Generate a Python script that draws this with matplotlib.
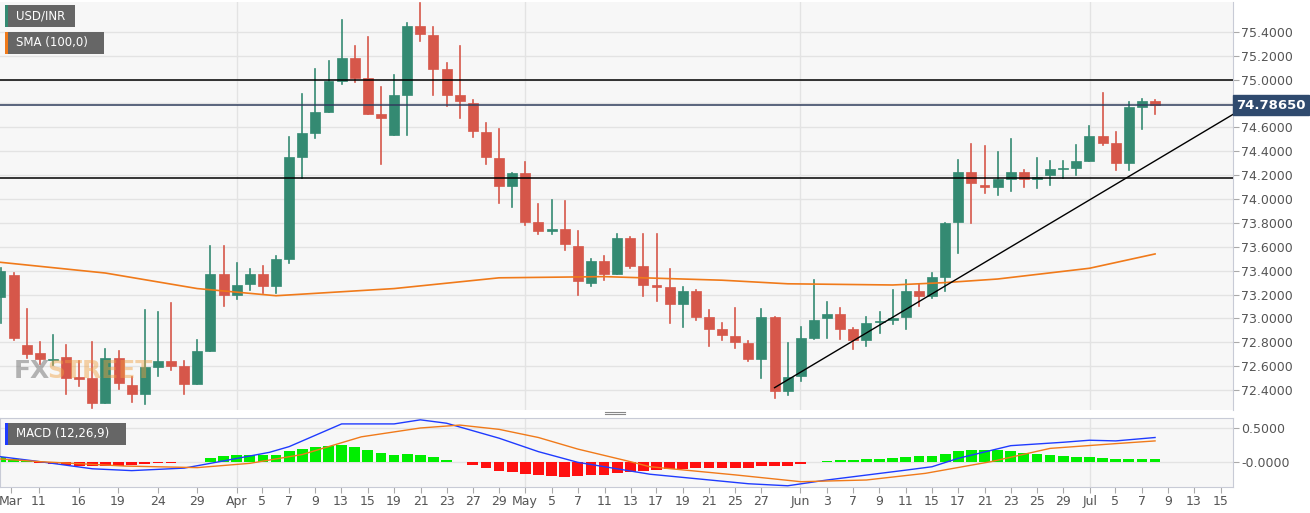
import matplotlib
matplotlib.use("Agg")
import matplotlib.pyplot as plt
from matplotlib.patches import Rectangle

opens  = [73.18,73.36,72.78,72.71,72.65,72.68,72.51,72.50,72.29,72.67,72.44,72.37,72.59,72.64,72.60,72.45,72.73,73.37,73.20,73.29,
          73.37,73.27,73.50,74.35,74.55,74.73,74.99,75.18,75.01,74.71,74.54,74.87,75.45,75.37,75.09,74.87,74.80,74.56,74.34,74.11,
          74.22,73.81,73.73,73.75,73.61,73.30,73.48,73.37,73.67,73.44,73.28,73.26,73.12,73.23,73.01,72.91,72.85,72.79,72.66,73.01,
          72.39,72.52,72.84,73.00,73.04,72.91,72.82,72.97,72.99,73.01,73.23,73.19,73.35,73.81,74.23,74.12,74.10,74.17,74.23,74.17,
          74.20,74.25,74.26,74.32,74.53,74.47,74.30,74.77,74.82]
highs  = [73.42,73.38,73.08,72.80,72.86,72.78,72.64,72.80,72.74,72.73,72.51,73.07,73.05,73.13,72.64,72.82,73.61,73.61,73.46,73.41,
          73.44,73.52,74.52,74.88,75.09,75.16,75.50,75.28,75.36,74.94,75.04,75.47,75.64,75.44,75.14,75.28,74.83,74.64,74.59,74.22,
          74.31,73.96,73.99,73.98,73.73,73.50,73.52,73.71,73.68,73.71,73.71,73.41,73.26,73.24,73.07,72.96,73.09,72.81,73.08,73.01,
          72.79,72.93,73.32,73.14,73.09,72.92,73.01,73.05,73.24,73.32,73.29,73.38,73.80,74.33,74.46,74.44,74.39,74.50,74.24,74.34,
          74.32,74.32,74.45,74.61,74.89,74.56,74.81,74.84,74.83]
lows   = [72.96,72.82,72.67,72.62,72.61,72.37,72.43,72.25,72.29,72.41,72.30,72.28,72.52,72.57,72.37,72.45,72.73,73.10,73.16,73.24,
          73.21,73.21,73.46,74.18,74.51,74.73,74.96,74.98,74.71,74.29,74.54,74.54,75.32,74.87,74.78,74.68,74.52,74.29,73.97,73.93,
          73.78,73.71,73.71,73.57,73.20,73.27,73.32,73.37,73.42,73.19,73.15,72.96,72.93,72.99,72.77,72.82,72.75,72.64,72.50,72.33,
          72.36,72.48,72.83,72.84,72.83,72.74,72.77,72.88,72.95,72.91,73.10,73.17,73.23,73.55,73.80,74.05,74.03,74.07,74.10,74.09,
          74.12,74.18,74.20,74.32,74.45,74.24,74.24,74.59,74.71]
closes = [73.40,72.84,72.70,72.66,72.66,72.50,72.49,72.29,72.67,72.46,72.37,72.59,72.64,72.60,72.45,72.73,73.37,73.20,73.28,73.37,
          73.27,73.50,74.35,74.55,74.73,74.99,75.18,75.01,74.71,74.68,74.87,75.45,75.38,75.09,74.87,74.82,74.57,74.35,74.11,74.22,
          73.81,73.73,73.75,73.62,73.31,73.48,73.37,73.67,73.44,73.28,73.26,73.12,73.23,73.01,72.91,72.86,72.80,72.66,73.01,72.39,
          72.51,72.84,72.99,73.04,72.91,72.82,72.96,72.98,73.00,73.23,73.19,73.35,73.80,74.23,74.13,74.10,74.17,74.23,74.17,74.18,
          74.25,74.26,74.32,74.53,74.47,74.30,74.77,74.82,74.7865]

sma_idx = [0, 8, 15, 21, 30, 38, 46, 55, 60, 68, 72, 76, 83, 88]
sma_val = [73.47, 73.38, 73.25, 73.19, 73.25, 73.34, 73.35, 73.32, 73.29, 73.28, 73.30, 73.33, 73.42, 73.54]

macd_idx = [0, 3, 7, 10, 14, 16, 20.5, 22, 26, 30, 32, 34, 38, 41, 44, 49.5, 57, 60, 63, 69, 71, 73, 77, 81, 83, 85, 88]
macd_val = [0.078, 0.005, -0.10, -0.127, -0.09, -0.02, 0.142, 0.226, 0.56, 0.56, 0.62, 0.57, 0.35, 0.152, -0.005, -0.18,
            -0.32, -0.35, -0.265, -0.12, -0.07, 0.054, 0.24, 0.29, 0.32, 0.31, 0.36]
sig_idx = [0, 3, 9.5, 15, 19, 23, 27.5, 32, 35, 38, 41, 44, 48, 49.5, 56, 61, 66, 70.5, 75.5, 80, 85, 88]
sig_val = [0.044, 0.005, -0.06, -0.083, -0.02, 0.11, 0.37, 0.50, 0.543, 0.48, 0.36, 0.19, 0.005, -0.07, -0.19, -0.29,
           -0.265, -0.167, 0.005, 0.20, 0.27, 0.31]
hist = [0.07,0.05,0.015,-0.01,-0.025,-0.05,-0.06,-0.065,-0.06,-0.055,-0.04,-0.03,-0.015,-0.01,-0.005,0.003,0.06,0.083,0.1,0.108,
        0.108,0.108,0.157,0.196,0.22,0.235,0.245,0.22,0.18,0.13,0.108,0.118,0.108,0.074,0.034,-0.005,-0.05,-0.088,-0.137,-0.147,
        -0.18,-0.196,-0.206,-0.216,-0.206,-0.196,-0.186,-0.157,-0.147,-0.132,-0.113,-0.098,-0.098,-0.088,-0.088,-0.083,-0.083,-0.083,-0.06,-0.06,
        -0.06,-0.034,-0.003,0.02,0.025,0.03,0.044,0.05,0.06,0.074,0.083,0.088,0.12,0.16,0.18,0.176,0.17,0.157,0.132,0.118,
        0.098,0.088,0.074,0.074,0.064,0.039,0.049,0.049,0.049]

tick_labels = ["Mar","11","16","19","24","29","Apr","5","7","9","13","15","19","21","23","27","29","May","5","7","11","13",
               "17","19","21","25","27","Jun","3","7","9","11","15","17","21","23","25","29","Jul","5","7","9","13","15"]
tick_px = [11,39,79,118,158,197,237,262,289,315,341,368,394,421,447,473,499,525,552,578,605,631,
           656,683,709,735,761,800,827,853,879,906,932,958,985,1011,1037,1063,1090,1115,1142,1168,1194,1221]
month_px = [237, 525, 800, 1090]

last_price = 74.7865
levels = [75.0, 74.18]
trend = ([59, 93.96], [72.42, 74.71])
price_ticks = [72.4 + 0.2*k for k in range(16) if k != 12]

SP = 13.12
def px2i(p): return (p - 0.5) / SP

W, H = 1310, 513
fig = plt.figure(figsize=(W/100, H/100), dpi=100)
fig.patch.set_facecolor("white")
BG = "#f7f7f7"; GRID = "#e3e3e3"
GREEN = "#348a72"; RED = "#d6574a"
xmax = px2i(1233)

ax = fig.add_axes([0, 1-410/H, 1233/W, 408/H])
ax.set_facecolor(BG)
ax.set_xlim(px2i(0), xmax)
ax.set_ylim(72.233, 75.65)
for v in [72.4+0.2*k for k in range(16)]:
    ax.axhline(v, color=GRID, lw=1, zorder=0)
for m in month_px:
    ax.axvline(px2i(m), color=GRID, lw=1, zorder=0)
for i, (o, h, l, c) in enumerate(zip(opens, highs, lows, closes)):
    col = GREEN if c >= o else RED
    ax.plot([i, i], [l, h], color=col, lw=1.2, zorder=2)
    lo, hi = min(o, c), max(o, c)
    ax.add_patch(Rectangle((i-0.38, lo), 0.76, max(hi-lo, 0.012), facecolor=col, edgecolor=col, lw=0.5, zorder=3))
ax.plot(sma_idx, sma_val, color="#f07a1a", lw=1.2, zorder=4)
for lv in levels:
    ax.axhline(lv, color="black", lw=1.1, zorder=5)
ax.axhline(last_price, color="#2f3d5c", lw=1.1, zorder=5)
ax.plot(trend[0], trend[1], color="black", lw=1.0, zorder=5)
ax.yaxis.tick_right()
ax.set_yticks(price_ticks)
ax.set_yticklabels([f"{v:.4f}" for v in price_ticks], fontsize=9, color="#555555")
ax.tick_params(axis="y", length=4, color="#aaaaaa", pad=2)
ax.set_xticks([])
for s in ["top", "left", "bottom"]:
    ax.spines[s].set_visible(False)
ax.spines["right"].set_color("#c8cbd6")
ax.text(xmax + 0.25, last_price, f"{last_price:.5f}", fontsize=9.5, fontweight="bold", color="white",
        va="center", ha="left", zorder=10, clip_on=False,
        bbox=dict(boxstyle="square,pad=0.25", fc="#2f4a6e", ec="#2f4a6e"))
ax.text(1.0, 72.56, "FX", fontsize=18, color="#7a7a7a", alpha=0.55, fontweight="bold", va="center", zorder=6)
ax.text(3.6, 72.56, "STREET", fontsize=18, color="#f0a040", alpha=0.45, fontweight="bold", va="center", zorder=6)

def legend_box(y0, y1, text, strip):
    fig.patches.append(Rectangle((5/W, 1-y1/H), (len(text)*7.2+20)/W, (y1-y0)/H, transform=fig.transFigure,
                                 fc="#666666", ec="none", zorder=20))
    fig.patches.append(Rectangle((5/W, 1-y1/H), 3/W, (y1-y0)/H, transform=fig.transFigure, fc=strip, ec="none", zorder=21))
    fig.text(16/W, 1-(y0+y1)/2/H, text, fontsize=8.5, color="white", va="center", ha="left", zorder=22)
legend_box(5, 27, "USD/INR", GREEN)
legend_box(32, 54, "SMA (100,0)", "#f07a1a")
legend_box(423, 445, "MACD (12,26,9)", "#1f3bff")

for yy in [411.5, 414]:
    fig.add_artist(plt.Line2D([605/W, 625/W], [1-yy/H, 1-yy/H], color="#888888", lw=0.8))

bx = fig.add_axes([0, 1-487/H, 1233/W, 69/H])
bx.set_facecolor(BG)
bx.set_xlim(px2i(0), xmax)
bx.set_ylim(-0.368, 0.647)
bx.axhline(0.5, color=GRID, lw=1, zorder=0)
bx.axhline(0.0, color=GRID, lw=1, zorder=0)
for m in month_px:
    bx.axvline(px2i(m), color=GRID, lw=1, zorder=0)
hcols = []
for hv in hist:
    if abs(hv) < 0.006:
        hcols.append("#a8f0a8" if hv >= 0 else "#f3a0a0")
    else:
        hcols.append("#00ee00" if hv >= 0 else "#ff1010")
bx.bar(range(len(hist)), hist, width=0.82, color=hcols, zorder=2)
bx.plot(macd_idx, macd_val, color="#1f3bff", lw=1.0, zorder=3)
bx.plot(sig_idx, sig_val, color="#f07a1a", lw=1.0, zorder=3)
bx.yaxis.tick_right()
bx.set_yticks([0.5, 0.0])
bx.set_yticklabels(["0.5000", "-0.0000"], fontsize=9, color="#555555")
bx.tick_params(axis="y", length=4, color="#aaaaaa", pad=2)
bx.set_xticks([px2i(p) for p in tick_px])
bx.set_xticklabels(tick_labels, fontsize=9, color="#555555")
bx.tick_params(axis="x", length=4, color="#aaaaaa", pad=2)
for s in ["top", "left", "right", "bottom"]:
    bx.spines[s].set_color("#c8cbd6")

fig.savefig("out.png", dpi=100, facecolor="white")
